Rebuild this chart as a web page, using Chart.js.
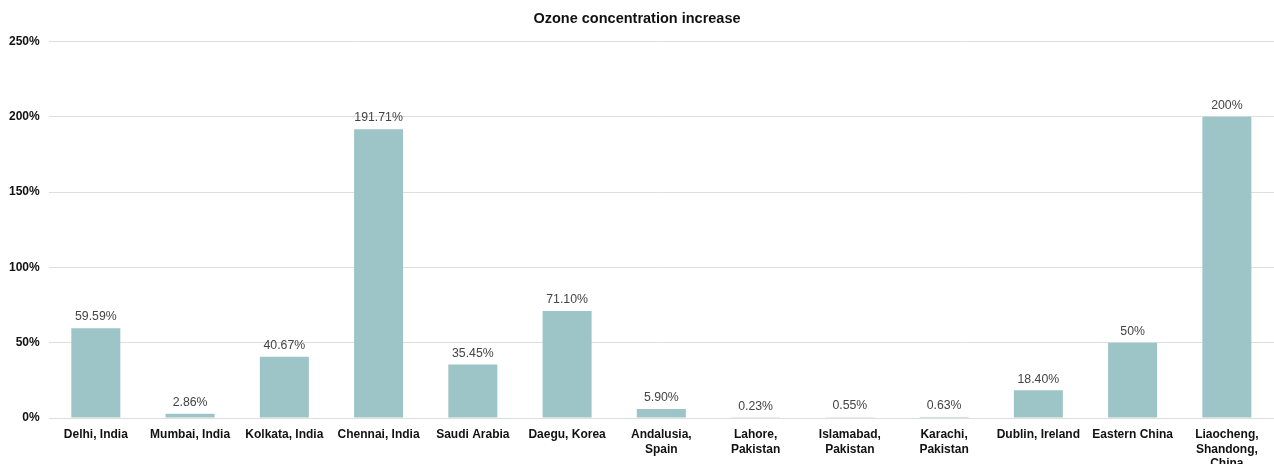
<!DOCTYPE html>
<html>
<head>
<meta charset="utf-8">
<script src="https://cdn.jsdelivr.net/npm/chart.js@4.4.1/dist/chart.umd.min.js"></script>
<style>
  html, body { margin: 0; padding: 0; background: #fff; }
  #wrap { width: 1274px; height: 464px; }
</style>
</head>
<body>
<div id="wrap"><canvas id="ozoneChart" width="1274" height="464"></canvas></div>
<script>
// data
const places = [
  'Delhi, India', 'Mumbai, India', 'Kolkata, India', 'Chennai, India', 'Saudi Arabia',
  'Daegu, Korea', ['Andalusia,', 'Spain'], ['Lahore,', 'Pakistan'], ['Islamabad,', 'Pakistan'],
  ['Karachi,', 'Pakistan'], 'Dublin, Ireland', 'Eastern China', ['Liaocheng,', 'Shandong,', 'China']
];
const increase = [59.59, 2.86, 40.67, 191.71, 35.45, 71.10, 5.90, 0.23, 0.55, 0.63, 18.40, 50, 200];
const increaseText = ['59.59%', '2.86%', '40.67%', '191.71%', '35.45%', '71.10%', '5.90%', '0.23%', '0.55%', '0.63%', '18.40%', '50%', '200%'];
const yTicks = [0, 50, 100, 150, 200, 250];

const FONT = 'Liberation Sans, Arial, Helvetica, sans-serif';

// value labels above bars
const barLabels = {
  id: 'barLabels',
  afterDatasetsDraw(chart) {
    const c = chart.ctx;
    const meta = chart.getDatasetMeta(0);
    c.save();
    c.font = '12.3px ' + FONT;
    c.fillStyle = '#444';
    c.textAlign = 'center';
    c.textBaseline = 'bottom';
    meta.data.forEach((bar, i) => {
      c.fillText(increaseText[i], bar.x, bar.y - 5);
    });
    c.restore();
  }
};

const ctx = document.getElementById('ozoneChart').getContext('2d');
new Chart(ctx, {
  type: 'bar',
  data: {
    labels: places,
    datasets: [{
      label: 'Ozone concentration increase',
      data: increase,
      backgroundColor: '#9dc4c7',
      barPercentage: 0.52,
      categoryPercentage: 1.0
    }]
  },
  options: {
    responsive: false,
    animation: false,
    layout: { padding: { top: 10, right: 0, left: 0, bottom: 0 } },
    plugins: {
      legend: { display: false },
      tooltip: { enabled: false },
      title: {
        display: true,
        text: 'Ozone concentration increase',
        color: '#111',
        font: { family: FONT, size: 14.5, weight: 'bold' },
        padding: { top: 0, bottom: 14 }
      }
    },
    scales: {
      x: {
        grid: { display: false },
        border: { display: false },
        afterFit: axis => { axis.height = 46; },
        ticks: {
          color: '#111',
          font: { family: FONT, size: 12, weight: 'bold', lineHeight: 1.18 },
          maxRotation: 0,
          autoSkip: false,
          padding: 2
        }
      },
      y: {
        min: 0,
        max: 250,
        afterBuildTicks: axis => { axis.ticks = yTicks.map(v => ({ value: v })); },
        grid: { color: '#dedede', drawTicks: false, lineWidth: 1 },
        border: { display: false },
        ticks: {
          color: '#111',
          font: { family: FONT, size: 12, weight: 'bold' },
          padding: 9,
          callback: v => v + '%'
        }
      }
    }
  },
  plugins: [barLabels]
});
</script>
</body>
</html>
